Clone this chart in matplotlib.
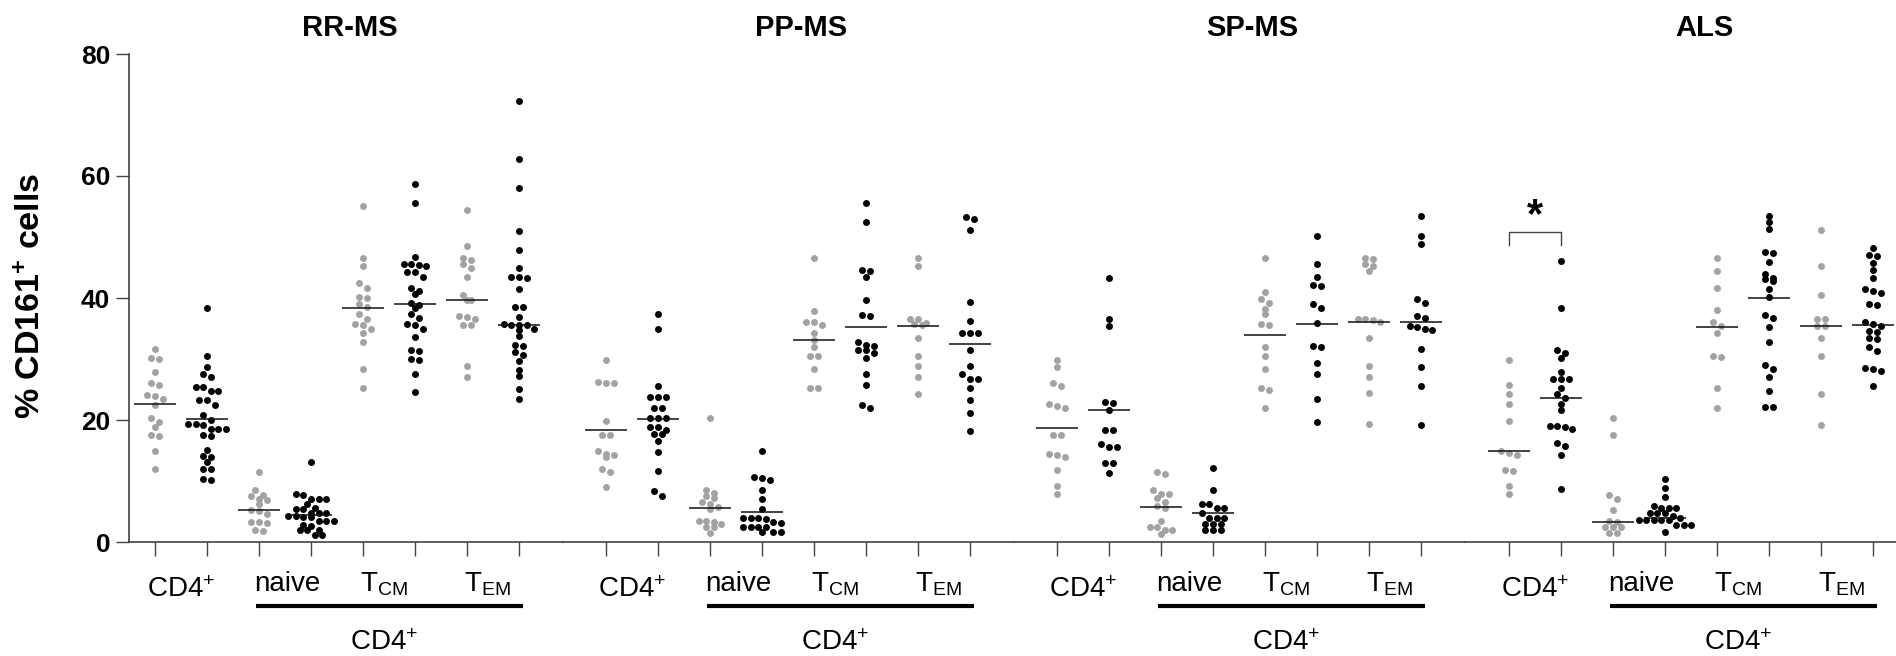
import numpy as np
import matplotlib
matplotlib.use("Agg")
import matplotlib.pyplot as plt
import matplotlib.transforms as mtransforms

plt.rcParams['font.family'] = ['Liberation Sans', 'DejaVu Sans']
plt.rcParams['mathtext.fontset'] = 'custom'
plt.rcParams['mathtext.rm'] = 'Liberation Sans'
plt.rcParams['mathtext.bf'] = 'Liberation Sans:bold'
plt.rcParams['mathtext.default'] = 'regular'

# ---------------------------
# Daten
# ---------------------------
panels = ['RR-MS', 'PP-MS', 'SP-MS', 'ALS']

RR_CD4_A = [31.7, 30.1, 30.0, 27.8, 26.1, 25.7, 24.1, 24.0, 23.4, 22.4, 20.4, 19.6, 18.9, 17.5, 17.4, 15.0, 11.9]
RR_CD4_B = [38.3, 30.5, 28.7, 27.5, 27.0, 25.4, 25.4, 24.8, 24.8, 23.2, 23.2, 22.4, 20.8, 20.0, 19.3, 19.3,
            19.2, 18.6, 18.6, 18.5, 17.5, 17.4, 15.1, 14.1, 14.0, 13.1, 12.0, 11.9, 10.3, 10.2]
RR_NAIVE_A = [11.4, 8.5, 7.7, 7.6, 7.0, 6.9, 6.3, 5.2, 5.1, 4.6, 3.2, 3.2, 3.1, 1.9, 1.8]
RR_NAIVE_B = [13.1, 7.8, 7.7, 7.1, 7.0, 7.0, 6.3, 5.5, 5.4, 5.4, 4.8, 4.8, 4.7, 4.2, 4.2, 4.1, 4.1,
              3.5, 3.5, 3.4, 2.8, 2.7, 2.0, 1.9, 1.9, 1.2, 1.1]
RR_TCM_A = [55.0, 46.5, 45.2, 42.4, 41.7, 40.1, 40.0, 39.0, 38.6, 37.4, 36.6, 35.7, 35.6, 35.0, 34.2, 32.8, 28.4, 25.2]
RR_TCM_B = [58.7, 55.5, 46.8, 45.6, 45.6, 45.4, 45.2, 44.2, 44.2, 43.5, 41.7, 41.1, 40.6, 39.2, 38.9, 38.3,
            37.4, 36.7, 35.7, 35.6, 34.9, 33.6, 31.4, 31.3, 30.0, 29.9, 27.5, 24.6]
RR_TEM_A = [54.4, 48.5, 46.5, 46.2, 45.5, 45.0, 43.4, 40.5, 39.7, 39.6, 37.0, 36.9, 36.5, 35.6, 35.5, 28.9, 27.1]
RR_TEM_B = [72.3, 62.8, 58.1, 51.0, 47.9, 45.0, 43.5, 43.5, 43.3, 41.4, 38.6, 38.6, 36.9, 35.7, 35.6, 35.6,
            35.5, 34.9, 34.8, 33.8, 32.3, 32.2, 31.2, 30.7, 29.6, 28.2, 27.2, 25.1, 23.4]

PP_CD4_A = [29.9, 26.3, 26.1, 26.0, 19.8, 17.6, 17.5, 15.0, 14.4, 14.2, 13.9, 11.9, 11.5, 9.0]
PP_CD4_B = [37.3, 35.0, 25.5, 23.8, 23.8, 23.8, 21.9, 21.9, 20.4, 20.4, 20.4, 18.9, 18.9, 18.3, 17.7, 17.7,
            16.6, 14.8, 11.7, 8.3, 7.6]
PP_NAIVE_A = [20.3, 8.6, 8.0, 7.5, 7.2, 6.6, 6.2, 5.8, 5.4, 3.5, 3.5, 3.2, 3.0, 2.4, 2.4, 1.4]
PP_NAIVE_B = [15.0, 10.7, 10.5, 10.2, 8.6, 7.0, 5.4, 3.9, 3.9, 3.9, 3.8, 3.2, 3.1, 2.5, 2.5, 2.5, 2.4, 1.7, 1.7, 1.6]
PP_TCM_A = [46.6, 37.9, 36.1, 36.1, 35.6, 34.2, 33.1, 32.0, 30.5, 30.5, 28.4, 25.2, 25.2]
PP_TCM_B = [55.6, 52.4, 44.6, 44.4, 43.4, 39.7, 37.2, 37.1, 32.8, 32.3, 32.2, 31.5, 31.4, 31.0, 30.1, 27.5,
            25.8, 22.5, 21.9]
PP_TEM_A = [46.6, 45.3, 36.6, 36.5, 35.9, 35.7, 35.6, 33.4, 30.5, 28.9, 27.1, 24.3]
PP_TEM_B = [53.3, 52.9, 51.2, 39.3, 36.3, 34.2, 34.2, 34.2, 31.4, 28.9, 27.5, 26.7, 26.7, 25.3, 23.3, 21.2, 18.2]

SP_CD4_A = [29.9, 28.7, 26.1, 25.6, 22.6, 22.3, 21.9, 17.5, 17.5, 14.5, 14.3, 13.9, 11.8, 9.1, 7.8]
SP_CD4_B = [43.3, 36.6, 35.4, 22.9, 22.8, 21.7, 18.4, 18.4, 16.0, 15.6, 15.6, 13.0, 13.0, 11.3]
SP_NAIVE_A = [11.4, 11.2, 8.6, 7.9, 7.8, 7.2, 6.6, 5.9, 5.5, 3.5, 2.5, 2.5, 2.0, 2.0, 1.3]
SP_NAIVE_B = [12.1, 8.5, 6.2, 6.2, 5.5, 5.5, 4.7, 3.9, 3.9, 3.9, 3.0, 3.0, 3.0, 2.0, 2.0, 2.0]
SP_TCM_A = [46.6, 41.0, 39.9, 39.2, 38.2, 37.3, 35.7, 35.5, 31.9, 30.5, 28.4, 25.2, 25.0, 22.0]
SP_TCM_B = [50.1, 45.5, 43.4, 42.2, 42.0, 39.0, 38.3, 35.9, 32.1, 31.9, 29.3, 27.5, 23.4, 19.6]
SP_TEM_A = [46.6, 46.4, 45.5, 45.2, 44.4, 36.6, 36.5, 36.4, 36.0, 33.5, 28.9, 27.1, 24.4, 19.3]
SP_TEM_B = [53.5, 50.2, 48.8, 39.8, 39.1, 37.0, 36.7, 35.4, 35.3, 34.9, 34.8, 31.7, 28.7, 25.6, 19.2]

ALS_CD4_A = [29.9, 25.7, 24.3, 22.6, 19.8, 15.0, 14.6, 14.3, 11.8, 11.6, 9.1, 7.8]
ALS_CD4_B = [46.1, 38.4, 31.5, 31.0, 30.1, 27.9, 26.8, 26.8, 26.8, 25.3, 24.3, 23.6, 22.6, 21.6, 19.0, 19.0,
             18.9, 18.6, 16.3, 15.7, 14.3, 8.7]
ALS_NAIVE_A = [20.3, 17.5, 7.7, 7.0, 5.2, 3.4, 3.3, 2.5, 2.5, 2.5, 1.4, 1.4]
ALS_NAIVE_B = [10.3, 8.9, 7.3, 5.9, 5.5, 5.5, 5.5, 4.7, 4.7, 4.7, 4.2, 3.9, 3.6, 3.6, 3.6, 3.6, 3.6,
               2.8, 2.8, 2.8, 1.7]
ALS_TCM_A = [46.6, 44.4, 41.7, 38.0, 36.0, 35.4, 34.2, 30.5, 30.3, 25.2, 22.0]
ALS_TCM_B = [53.5, 52.5, 51.3, 47.6, 47.4, 45.9, 44.0, 43.3, 43.1, 42.8, 41.5, 40.1, 37.2, 36.7, 35.3, 32.8,
             29.0, 28.3, 27.0, 24.8, 22.2, 22.1]
ALS_TEM_A = [51.2, 45.3, 40.5, 36.6, 36.5, 35.4, 35.4, 33.5, 30.5, 24.3, 19.2]
ALS_TEM_B = [48.2, 47.1, 46.9, 45.8, 44.6, 43.3, 41.4, 41.2, 40.9, 39.0, 38.8, 36.1, 35.8, 35.4, 34.6, 34.4,
             33.4, 33.2, 32.0, 31.3, 28.5, 28.3, 28.1, 25.6]

# Medianlinien
RR_MED = [22.7, 20.2, 5.2, 4.4, 38.4, 39.0, 39.7, 35.6]
PP_MED = [18.3, 20.2, 5.6, 4.9, 33.1, 35.3, 35.4, 32.5]
SP_MED = [18.7, 21.6, 5.7, 4.7, 34.0, 35.7, 36.1, 36.0]
ALS_MED = [15.0, 23.6, 3.3, 4.0, 35.3, 40.0, 35.4, 35.5]

# Signifikanz im ALS-Panel
SIG_PAIR = (0, 1)
SIG_Y = 50.8
SIG_LABEL = '*'

data = [
    [RR_CD4_A, RR_CD4_B, RR_NAIVE_A, RR_NAIVE_B, RR_TCM_A, RR_TCM_B, RR_TEM_A, RR_TEM_B],
    [PP_CD4_A, PP_CD4_B, PP_NAIVE_A, PP_NAIVE_B, PP_TCM_A, PP_TCM_B, PP_TEM_A, PP_TEM_B],
    [SP_CD4_A, SP_CD4_B, SP_NAIVE_A, SP_NAIVE_B, SP_TCM_A, SP_TCM_B, SP_TEM_A, SP_TEM_B],
    [ALS_CD4_A, ALS_CD4_B, ALS_NAIVE_A, ALS_NAIVE_B, ALS_TCM_A, ALS_TCM_B, ALS_TEM_A, ALS_TEM_B],
]
medians = [RR_MED, PP_MED, SP_MED, ALS_MED]
colors = ['#a3a3a3', '#000000']


def swarm(vals, ystep=0.85, xstep=0.145):
    """einfache Beeswarm-Verschiebung: nahe Werte nebeneinander zentriert"""
    vals = np.asarray(vals, dtype=float)
    order = np.argsort(-vals)
    v = vals[order]
    offs = np.zeros(len(v))
    i = 0
    while i < len(v):
        j = i
        while j + 1 < len(v) and v[i] - v[j + 1] < ystep:
            j += 1
        n = j - i + 1
        offs[i:j + 1] = (np.arange(n) - (n - 1) / 2) * xstep
        i = j + 1
    out = np.empty_like(offs)
    out[order] = offs
    return out


# ---------------------------
# Layout (Pixel)
# ---------------------------
W, H = 1896, 656
fig = plt.figure(figsize=(W / 100, H / 100), dpi=100)

px_unit = 52.0
tick0 = [155, 606, 1057, 1509]
edges = [(129, 563), (563, 1014), (1014, 1465), (1465, 1896)]
y_top, y_bot = 54, 542


def yax(px):
    return (y_bot - px) / (y_bot - y_top)


for k, name in enumerate(panels):
    l, r = edges[k]
    ax = fig.add_axes([l / W, (H - y_bot) / H, (r - l) / W, (y_bot - y_top) / H])
    ax.set_xlim((l - tick0[k]) / px_unit, (r - tick0[k]) / px_unit)
    ax.set_ylim(0, 80)

    for i, vals in enumerate(data[k]):
        xs = i + swarm(vals)
        ax.plot(xs, vals, 'o', color=colors[i % 2], markersize=5.0, markeredgewidth=0,
                clip_on=False, zorder=3)
        ax.hlines(medians[k][i], i - 0.4, i + 0.4, color='#111111', linewidth=1.1, zorder=4)

    for s in ['top', 'right']:
        ax.spines[s].set_visible(False)
    ax.spines['bottom'].set_color('#333333')
    ax.spines['bottom'].set_linewidth(1.1)
    ax.set_xticks(range(8))
    ax.set_xticklabels([])
    ax.tick_params(axis='x', length=10, width=1.0, color='#444444')

    if k == 0:
        ax.spines['left'].set_color('#333333')
        ax.spines['left'].set_linewidth(1.1)
        ax.set_yticks([0, 20, 40, 60, 80])
        ax.set_yticklabels(['0', '20', '40', '60', '80'], fontsize=19, fontweight='bold')
        ax.tick_params(axis='y', length=9.5, width=1.0, color='#444444', pad=4)
    else:
        ax.spines['left'].set_visible(False)
        ax.set_yticks([])

    if k < 3:
        ax.axvline(ax.get_xlim()[1], color='#c4c4c4', linewidth=0.9, linestyle=(0, (1, 1.6)),
                   clip_on=False, zorder=1)

    trans = mtransforms.blended_transform_factory(ax.transData, ax.transAxes)
    ax.text(3.75, yax(36), name, transform=trans, ha='center', va='baseline',
            fontsize=21, fontweight='bold')

    # Kategorien
    ax.text(0.5, yax(597), 'CD$4^{+}$', transform=trans, ha='center', va='baseline', fontsize=20)
    ax.text(2.55, yax(591), 'naive', transform=trans, ha='center', va='baseline', fontsize=20)
    ax.text(4.4, yax(591), 'T$_{CM}$', transform=trans, ha='center', va='baseline', fontsize=20)
    ax.text(6.4, yax(591), 'T$_{EM}$', transform=trans, ha='center', va='baseline', fontsize=20)
    ax.plot([1.95, 7.07], [yax(605.5)] * 2, transform=trans, color='black', linewidth=3,
            solid_capstyle='butt', clip_on=False)
    ax.text(4.4, yax(650), 'CD$4^{+}$', transform=trans, ha='center', va='baseline', fontsize=20)

    if name == 'ALS':
        a, b = SIG_PAIR
        ax.plot([a, a, b, b], [SIG_Y - 2.1, SIG_Y, SIG_Y, SIG_Y - 2.1], color='#444444',
                linewidth=1.0, clip_on=False)
        ax.text((a + b) / 2, SIG_Y - 0.6, SIG_LABEL, ha='center', va='bottom',
                fontsize=30, fontweight='bold')

fig.text(31.5 / W, 1 - 296 / H, '% CD$161^{+}$ cells', rotation=90, ha='center', va='center',
         fontsize=24.5, fontweight='bold')

fig.savefig('out.png', dpi=100)
